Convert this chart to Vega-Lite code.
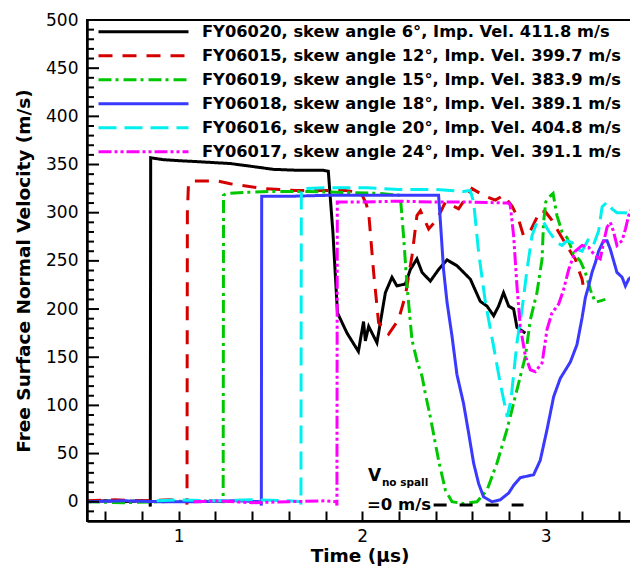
{
  "$schema": "https://vega.github.io/schema/vega-lite/v6.json",
  "autosize": {"type": "none"},
  "padding": {"left": 87, "top": 20, "right": 0, "bottom": 49},
  "width": 545,
  "height": 501,
  "background": "white",
  "config": {
    "view": {"stroke": "black", "strokeWidth": 2},
    "font": "DejaVu Sans",
    "axis": {
      "domainColor": "black", "domainWidth": 2.5,
      "tickColor": "black", "tickWidth": 2,
      "labelColor": "black", "labelFont": "DejaVu Sans", "labelFontSize": 17,
      "titleColor": "black", "titleFont": "DejaVu Sans", "titleFontSize": 18.5, "titleFontWeight": "bold",
      "grid": false, "labelOverlap": false, "labelBound": false, "labelFlush": false
    }
  },
  "datasets": {
    "curves": [
      {"s":"FY06020, skew angle 6°, Imp. Vel. 411.8 m/s","t":0.5,"v":0},
      {"s":"FY06020, skew angle 6°, Imp. Vel. 411.8 m/s","t":0.6,"v":1},
      {"s":"FY06020, skew angle 6°, Imp. Vel. 411.8 m/s","t":0.7,"v":0},
      {"s":"FY06020, skew angle 6°, Imp. Vel. 411.8 m/s","t":0.8,"v":1},
      {"s":"FY06020, skew angle 6°, Imp. Vel. 411.8 m/s","t":0.843,"v":0},
      {"s":"FY06020, skew angle 6°, Imp. Vel. 411.8 m/s","t":0.845,"v":-5},
      {"s":"FY06020, skew angle 6°, Imp. Vel. 411.8 m/s","t":0.847,"v":357},
      {"s":"FY06020, skew angle 6°, Imp. Vel. 411.8 m/s","t":0.916,"v":355},
      {"s":"FY06020, skew angle 6°, Imp. Vel. 411.8 m/s","t":1.0,"v":354},
      {"s":"FY06020, skew angle 6°, Imp. Vel. 411.8 m/s","t":1.1,"v":353},
      {"s":"FY06020, skew angle 6°, Imp. Vel. 411.8 m/s","t":1.281,"v":351},
      {"s":"FY06020, skew angle 6°, Imp. Vel. 411.8 m/s","t":1.4,"v":348},
      {"s":"FY06020, skew angle 6°, Imp. Vel. 411.8 m/s","t":1.515,"v":345},
      {"s":"FY06020, skew angle 6°, Imp. Vel. 411.8 m/s","t":1.65,"v":344},
      {"s":"FY06020, skew angle 6°, Imp. Vel. 411.8 m/s","t":1.788,"v":344},
      {"s":"FY06020, skew angle 6°, Imp. Vel. 411.8 m/s","t":1.815,"v":343},
      {"s":"FY06020, skew angle 6°, Imp. Vel. 411.8 m/s","t":1.84,"v":280},
      {"s":"FY06020, skew angle 6°, Imp. Vel. 411.8 m/s","t":1.865,"v":196},
      {"s":"FY06020, skew angle 6°, Imp. Vel. 411.8 m/s","t":1.917,"v":175},
      {"s":"FY06020, skew angle 6°, Imp. Vel. 411.8 m/s","t":1.979,"v":156},
      {"s":"FY06020, skew angle 6°, Imp. Vel. 411.8 m/s","t":2.007,"v":187},
      {"s":"FY06020, skew angle 6°, Imp. Vel. 411.8 m/s","t":2.017,"v":167},
      {"s":"FY06020, skew angle 6°, Imp. Vel. 411.8 m/s","t":2.035,"v":182},
      {"s":"FY06020, skew angle 6°, Imp. Vel. 411.8 m/s","t":2.08,"v":165},
      {"s":"FY06020, skew angle 6°, Imp. Vel. 411.8 m/s","t":2.126,"v":217},
      {"s":"FY06020, skew angle 6°, Imp. Vel. 411.8 m/s","t":2.162,"v":233},
      {"s":"FY06020, skew angle 6°, Imp. Vel. 411.8 m/s","t":2.189,"v":224},
      {"s":"FY06020, skew angle 6°, Imp. Vel. 411.8 m/s","t":2.235,"v":226},
      {"s":"FY06020, skew angle 6°, Imp. Vel. 411.8 m/s","t":2.262,"v":241},
      {"s":"FY06020, skew angle 6°, Imp. Vel. 411.8 m/s","t":2.298,"v":252},
      {"s":"FY06020, skew angle 6°, Imp. Vel. 411.8 m/s","t":2.326,"v":238},
      {"s":"FY06020, skew angle 6°, Imp. Vel. 411.8 m/s","t":2.371,"v":229},
      {"s":"FY06020, skew angle 6°, Imp. Vel. 411.8 m/s","t":2.416,"v":241},
      {"s":"FY06020, skew angle 6°, Imp. Vel. 411.8 m/s","t":2.462,"v":251},
      {"s":"FY06020, skew angle 6°, Imp. Vel. 411.8 m/s","t":2.516,"v":245},
      {"s":"FY06020, skew angle 6°, Imp. Vel. 411.8 m/s","t":2.589,"v":231},
      {"s":"FY06020, skew angle 6°, Imp. Vel. 411.8 m/s","t":2.643,"v":208},
      {"s":"FY06020, skew angle 6°, Imp. Vel. 411.8 m/s","t":2.68,"v":203},
      {"s":"FY06020, skew angle 6°, Imp. Vel. 411.8 m/s","t":2.716,"v":193},
      {"s":"FY06020, skew angle 6°, Imp. Vel. 411.8 m/s","t":2.743,"v":203},
      {"s":"FY06020, skew angle 6°, Imp. Vel. 411.8 m/s","t":2.77,"v":217},
      {"s":"FY06020, skew angle 6°, Imp. Vel. 411.8 m/s","t":2.798,"v":203},
      {"s":"FY06020, skew angle 6°, Imp. Vel. 411.8 m/s","t":2.825,"v":200},
      {"s":"FY06020, skew angle 6°, Imp. Vel. 411.8 m/s","t":2.843,"v":181},
      {"s":"FY06020, skew angle 6°, Imp. Vel. 411.8 m/s","t":2.889,"v":175},

      {"s":"FY06015, skew angle 12°, Imp. Vel. 399.7 m/s","t":0.5,"v":1},
      {"s":"FY06015, skew angle 12°, Imp. Vel. 399.7 m/s","t":0.65,"v":2},
      {"s":"FY06015, skew angle 12°, Imp. Vel. 399.7 m/s","t":0.8,"v":1},
      {"s":"FY06015, skew angle 12°, Imp. Vel. 399.7 m/s","t":0.95,"v":2},
      {"s":"FY06015, skew angle 12°, Imp. Vel. 399.7 m/s","t":1.043,"v":1},
      {"s":"FY06015, skew angle 12°, Imp. Vel. 399.7 m/s","t":1.045,"v":-3},
      {"s":"FY06015, skew angle 12°, Imp. Vel. 399.7 m/s","t":1.047,"v":300},
      {"s":"FY06015, skew angle 12°, Imp. Vel. 399.7 m/s","t":1.053,"v":330},
      {"s":"FY06015, skew angle 12°, Imp. Vel. 399.7 m/s","t":1.07,"v":333},
      {"s":"FY06015, skew angle 12°, Imp. Vel. 399.7 m/s","t":1.208,"v":333},
      {"s":"FY06015, skew angle 12°, Imp. Vel. 399.7 m/s","t":1.281,"v":330},
      {"s":"FY06015, skew angle 12°, Imp. Vel. 399.7 m/s","t":1.462,"v":325},
      {"s":"FY06015, skew angle 12°, Imp. Vel. 399.7 m/s","t":1.644,"v":323},
      {"s":"FY06015, skew angle 12°, Imp. Vel. 399.7 m/s","t":1.908,"v":323},
      {"s":"FY06015, skew angle 12°, Imp. Vel. 399.7 m/s","t":1.95,"v":322},
      {"s":"FY06015, skew angle 12°, Imp. Vel. 399.7 m/s","t":2.0,"v":318},
      {"s":"FY06015, skew angle 12°, Imp. Vel. 399.7 m/s","t":2.02,"v":310},
      {"s":"FY06015, skew angle 12°, Imp. Vel. 399.7 m/s","t":2.035,"v":300},
      {"s":"FY06015, skew angle 12°, Imp. Vel. 399.7 m/s","t":2.062,"v":238},
      {"s":"FY06015, skew angle 12°, Imp. Vel. 399.7 m/s","t":2.089,"v":186},
      {"s":"FY06015, skew angle 12°, Imp. Vel. 399.7 m/s","t":2.144,"v":174},
      {"s":"FY06015, skew angle 12°, Imp. Vel. 399.7 m/s","t":2.198,"v":189},
      {"s":"FY06015, skew angle 12°, Imp. Vel. 399.7 m/s","t":2.235,"v":214},
      {"s":"FY06015, skew angle 12°, Imp. Vel. 399.7 m/s","t":2.271,"v":255},
      {"s":"FY06015, skew angle 12°, Imp. Vel. 399.7 m/s","t":2.298,"v":297},
      {"s":"FY06015, skew angle 12°, Imp. Vel. 399.7 m/s","t":2.317,"v":302},
      {"s":"FY06015, skew angle 12°, Imp. Vel. 399.7 m/s","t":2.362,"v":283},
      {"s":"FY06015, skew angle 12°, Imp. Vel. 399.7 m/s","t":2.407,"v":293},
      {"s":"FY06015, skew angle 12°, Imp. Vel. 399.7 m/s","t":2.453,"v":311},
      {"s":"FY06015, skew angle 12°, Imp. Vel. 399.7 m/s","t":2.525,"v":304},
      {"s":"FY06015, skew angle 12°, Imp. Vel. 399.7 m/s","t":2.598,"v":325},
      {"s":"FY06015, skew angle 12°, Imp. Vel. 399.7 m/s","t":2.661,"v":318},
      {"s":"FY06015, skew angle 12°, Imp. Vel. 399.7 m/s","t":2.725,"v":313},
      {"s":"FY06015, skew angle 12°, Imp. Vel. 399.7 m/s","t":2.77,"v":318},
      {"s":"FY06015, skew angle 12°, Imp. Vel. 399.7 m/s","t":2.816,"v":307},
      {"s":"FY06015, skew angle 12°, Imp. Vel. 399.7 m/s","t":2.852,"v":293},
      {"s":"FY06015, skew angle 12°, Imp. Vel. 399.7 m/s","t":2.879,"v":276},
      {"s":"FY06015, skew angle 12°, Imp. Vel. 399.7 m/s","t":2.916,"v":281},
      {"s":"FY06015, skew angle 12°, Imp. Vel. 399.7 m/s","t":2.97,"v":302},
      {"s":"FY06015, skew angle 12°, Imp. Vel. 399.7 m/s","t":2.998,"v":301},
      {"s":"FY06015, skew angle 12°, Imp. Vel. 399.7 m/s","t":3.034,"v":292},
      {"s":"FY06015, skew angle 12°, Imp. Vel. 399.7 m/s","t":3.061,"v":283},
      {"s":"FY06015, skew angle 12°, Imp. Vel. 399.7 m/s","t":3.107,"v":268},
      {"s":"FY06015, skew angle 12°, Imp. Vel. 399.7 m/s","t":3.143,"v":257},
      {"s":"FY06015, skew angle 12°, Imp. Vel. 399.7 m/s","t":3.161,"v":252},
      {"s":"FY06015, skew angle 12°, Imp. Vel. 399.7 m/s","t":3.179,"v":241},
      {"s":"FY06015, skew angle 12°, Imp. Vel. 399.7 m/s","t":3.198,"v":231},
      {"s":"FY06015, skew angle 12°, Imp. Vel. 399.7 m/s","t":3.21,"v":217},

      {"s":"FY06019, skew angle 15°, Imp. Vel. 383.9 m/s","t":0.5,"v":0},
      {"s":"FY06019, skew angle 15°, Imp. Vel. 383.9 m/s","t":0.7,"v":-1},
      {"s":"FY06019, skew angle 15°, Imp. Vel. 383.9 m/s","t":0.9,"v":0},
      {"s":"FY06019, skew angle 15°, Imp. Vel. 383.9 m/s","t":1.1,"v":1},
      {"s":"FY06019, skew angle 15°, Imp. Vel. 383.9 m/s","t":1.242,"v":0},
      {"s":"FY06019, skew angle 15°, Imp. Vel. 383.9 m/s","t":1.244,"v":318},
      {"s":"FY06019, skew angle 15°, Imp. Vel. 383.9 m/s","t":1.26,"v":320},
      {"s":"FY06019, skew angle 15°, Imp. Vel. 383.9 m/s","t":1.35,"v":321},
      {"s":"FY06019, skew angle 15°, Imp. Vel. 383.9 m/s","t":1.5,"v":322},
      {"s":"FY06019, skew angle 15°, Imp. Vel. 383.9 m/s","t":1.7,"v":322},
      {"s":"FY06019, skew angle 15°, Imp. Vel. 383.9 m/s","t":1.9,"v":321},
      {"s":"FY06019, skew angle 15°, Imp. Vel. 383.9 m/s","t":2.1,"v":320},
      {"s":"FY06019, skew angle 15°, Imp. Vel. 383.9 m/s","t":2.207,"v":318},
      {"s":"FY06019, skew angle 15°, Imp. Vel. 383.9 m/s","t":2.225,"v":276},
      {"s":"FY06019, skew angle 15°, Imp. Vel. 383.9 m/s","t":2.244,"v":224},
      {"s":"FY06019, skew angle 15°, Imp. Vel. 383.9 m/s","t":2.271,"v":168},
      {"s":"FY06019, skew angle 15°, Imp. Vel. 383.9 m/s","t":2.3,"v":145},
      {"s":"FY06019, skew angle 15°, Imp. Vel. 383.9 m/s","t":2.326,"v":130},
      {"s":"FY06019, skew angle 15°, Imp. Vel. 383.9 m/s","t":2.344,"v":112},
      {"s":"FY06019, skew angle 15°, Imp. Vel. 383.9 m/s","t":2.371,"v":88},
      {"s":"FY06019, skew angle 15°, Imp. Vel. 383.9 m/s","t":2.416,"v":43},
      {"s":"FY06019, skew angle 15°, Imp. Vel. 383.9 m/s","t":2.453,"v":12},
      {"s":"FY06019, skew angle 15°, Imp. Vel. 383.9 m/s","t":2.489,"v":0},
      {"s":"FY06019, skew angle 15°, Imp. Vel. 383.9 m/s","t":2.552,"v":-2},
      {"s":"FY06019, skew angle 15°, Imp. Vel. 383.9 m/s","t":2.625,"v":0},
      {"s":"FY06019, skew angle 15°, Imp. Vel. 383.9 m/s","t":2.68,"v":12},
      {"s":"FY06019, skew angle 15°, Imp. Vel. 383.9 m/s","t":2.734,"v":40},
      {"s":"FY06019, skew angle 15°, Imp. Vel. 383.9 m/s","t":2.789,"v":75},
      {"s":"FY06019, skew angle 15°, Imp. Vel. 383.9 m/s","t":2.843,"v":116},
      {"s":"FY06019, skew angle 15°, Imp. Vel. 383.9 m/s","t":2.889,"v":151},
      {"s":"FY06019, skew angle 15°, Imp. Vel. 383.9 m/s","t":2.916,"v":189},
      {"s":"FY06019, skew angle 15°, Imp. Vel. 383.9 m/s","t":2.952,"v":217},
      {"s":"FY06019, skew angle 15°, Imp. Vel. 383.9 m/s","t":2.98,"v":252},
      {"s":"FY06019, skew angle 15°, Imp. Vel. 383.9 m/s","t":2.988,"v":290},
      {"s":"FY06019, skew angle 15°, Imp. Vel. 383.9 m/s","t":3.0,"v":311},
      {"s":"FY06019, skew angle 15°, Imp. Vel. 383.9 m/s","t":3.016,"v":316},
      {"s":"FY06019, skew angle 15°, Imp. Vel. 383.9 m/s","t":3.04,"v":320},
      {"s":"FY06019, skew angle 15°, Imp. Vel. 383.9 m/s","t":3.061,"v":297},
      {"s":"FY06019, skew angle 15°, Imp. Vel. 383.9 m/s","t":3.089,"v":280},
      {"s":"FY06019, skew angle 15°, Imp. Vel. 383.9 m/s","t":3.116,"v":274},
      {"s":"FY06019, skew angle 15°, Imp. Vel. 383.9 m/s","t":3.134,"v":266},
      {"s":"FY06019, skew angle 15°, Imp. Vel. 383.9 m/s","t":3.152,"v":257},
      {"s":"FY06019, skew angle 15°, Imp. Vel. 383.9 m/s","t":3.188,"v":250},
      {"s":"FY06019, skew angle 15°, Imp. Vel. 383.9 m/s","t":3.216,"v":238},
      {"s":"FY06019, skew angle 15°, Imp. Vel. 383.9 m/s","t":3.243,"v":220},
      {"s":"FY06019, skew angle 15°, Imp. Vel. 383.9 m/s","t":3.27,"v":207},
      {"s":"FY06019, skew angle 15°, Imp. Vel. 383.9 m/s","t":3.325,"v":210},

      {"s":"FY06018, skew angle 18°, Imp. Vel. 389.1 m/s","t":0.5,"v":0},
      {"s":"FY06018, skew angle 18°, Imp. Vel. 389.1 m/s","t":0.7,"v":1},
      {"s":"FY06018, skew angle 18°, Imp. Vel. 389.1 m/s","t":0.9,"v":0},
      {"s":"FY06018, skew angle 18°, Imp. Vel. 389.1 m/s","t":1.1,"v":0},
      {"s":"FY06018, skew angle 18°, Imp. Vel. 389.1 m/s","t":1.3,"v":1},
      {"s":"FY06018, skew angle 18°, Imp. Vel. 389.1 m/s","t":1.448,"v":0},
      {"s":"FY06018, skew angle 18°, Imp. Vel. 389.1 m/s","t":1.45,"v":-4},
      {"s":"FY06018, skew angle 18°, Imp. Vel. 389.1 m/s","t":1.452,"v":317},
      {"s":"FY06018, skew angle 18°, Imp. Vel. 389.1 m/s","t":1.6,"v":317},
      {"s":"FY06018, skew angle 18°, Imp. Vel. 389.1 m/s","t":1.8,"v":318},
      {"s":"FY06018, skew angle 18°, Imp. Vel. 389.1 m/s","t":2.0,"v":318},
      {"s":"FY06018, skew angle 18°, Imp. Vel. 389.1 m/s","t":2.2,"v":318},
      {"s":"FY06018, skew angle 18°, Imp. Vel. 389.1 m/s","t":2.416,"v":318},
      {"s":"FY06018, skew angle 18°, Imp. Vel. 389.1 m/s","t":2.425,"v":293},
      {"s":"FY06018, skew angle 18°, Imp. Vel. 389.1 m/s","t":2.443,"v":241},
      {"s":"FY06018, skew angle 18°, Imp. Vel. 389.1 m/s","t":2.462,"v":207},
      {"s":"FY06018, skew angle 18°, Imp. Vel. 389.1 m/s","t":2.489,"v":172},
      {"s":"FY06018, skew angle 18°, Imp. Vel. 389.1 m/s","t":2.516,"v":132},
      {"s":"FY06018, skew angle 18°, Imp. Vel. 389.1 m/s","t":2.552,"v":102},
      {"s":"FY06018, skew angle 18°, Imp. Vel. 389.1 m/s","t":2.58,"v":71},
      {"s":"FY06018, skew angle 18°, Imp. Vel. 389.1 m/s","t":2.607,"v":40},
      {"s":"FY06018, skew angle 18°, Imp. Vel. 389.1 m/s","t":2.634,"v":19},
      {"s":"FY06018, skew angle 18°, Imp. Vel. 389.1 m/s","t":2.661,"v":5},
      {"s":"FY06018, skew angle 18°, Imp. Vel. 389.1 m/s","t":2.707,"v":0},
      {"s":"FY06018, skew angle 18°, Imp. Vel. 389.1 m/s","t":2.752,"v":2},
      {"s":"FY06018, skew angle 18°, Imp. Vel. 389.1 m/s","t":2.798,"v":9},
      {"s":"FY06018, skew angle 18°, Imp. Vel. 389.1 m/s","t":2.825,"v":17},
      {"s":"FY06018, skew angle 18°, Imp. Vel. 389.1 m/s","t":2.861,"v":25},
      {"s":"FY06018, skew angle 18°, Imp. Vel. 389.1 m/s","t":2.934,"v":28},
      {"s":"FY06018, skew angle 18°, Imp. Vel. 389.1 m/s","t":2.97,"v":43},
      {"s":"FY06018, skew angle 18°, Imp. Vel. 389.1 m/s","t":3.007,"v":75},
      {"s":"FY06018, skew angle 18°, Imp. Vel. 389.1 m/s","t":3.043,"v":109},
      {"s":"FY06018, skew angle 18°, Imp. Vel. 389.1 m/s","t":3.079,"v":128},
      {"s":"FY06018, skew angle 18°, Imp. Vel. 389.1 m/s","t":3.134,"v":145},
      {"s":"FY06018, skew angle 18°, Imp. Vel. 389.1 m/s","t":3.17,"v":163},
      {"s":"FY06018, skew angle 18°, Imp. Vel. 389.1 m/s","t":3.198,"v":191},
      {"s":"FY06018, skew angle 18°, Imp. Vel. 389.1 m/s","t":3.216,"v":212},
      {"s":"FY06018, skew angle 18°, Imp. Vel. 389.1 m/s","t":3.234,"v":224},
      {"s":"FY06018, skew angle 18°, Imp. Vel. 389.1 m/s","t":3.252,"v":238},
      {"s":"FY06018, skew angle 18°, Imp. Vel. 389.1 m/s","t":3.27,"v":248},
      {"s":"FY06018, skew angle 18°, Imp. Vel. 389.1 m/s","t":3.288,"v":260},
      {"s":"FY06018, skew angle 18°, Imp. Vel. 389.1 m/s","t":3.315,"v":271},
      {"s":"FY06018, skew angle 18°, Imp. Vel. 389.1 m/s","t":3.334,"v":271},
      {"s":"FY06018, skew angle 18°, Imp. Vel. 389.1 m/s","t":3.352,"v":262},
      {"s":"FY06018, skew angle 18°, Imp. Vel. 389.1 m/s","t":3.37,"v":250},
      {"s":"FY06018, skew angle 18°, Imp. Vel. 389.1 m/s","t":3.388,"v":238},
      {"s":"FY06018, skew angle 18°, Imp. Vel. 389.1 m/s","t":3.416,"v":233},
      {"s":"FY06018, skew angle 18°, Imp. Vel. 389.1 m/s","t":3.434,"v":224},
      {"s":"FY06018, skew angle 18°, Imp. Vel. 389.1 m/s","t":3.452,"v":231},
      {"s":"FY06018, skew angle 18°, Imp. Vel. 389.1 m/s","t":3.47,"v":234},

      {"s":"FY06016, skew angle 20°, Imp. Vel. 404.8 m/s","t":0.88,"v":1},
      {"s":"FY06016, skew angle 20°, Imp. Vel. 404.8 m/s","t":1.0,"v":2},
      {"s":"FY06016, skew angle 20°, Imp. Vel. 404.8 m/s","t":1.2,"v":1},
      {"s":"FY06016, skew angle 20°, Imp. Vel. 404.8 m/s","t":1.4,"v":2},
      {"s":"FY06016, skew angle 20°, Imp. Vel. 404.8 m/s","t":1.6,"v":1},
      {"s":"FY06016, skew angle 20°, Imp. Vel. 404.8 m/s","t":1.664,"v":0},
      {"s":"FY06016, skew angle 20°, Imp. Vel. 404.8 m/s","t":1.666,"v":-3},
      {"s":"FY06016, skew angle 20°, Imp. Vel. 404.8 m/s","t":1.668,"v":325},
      {"s":"FY06016, skew angle 20°, Imp. Vel. 404.8 m/s","t":1.8,"v":326},
      {"s":"FY06016, skew angle 20°, Imp. Vel. 404.8 m/s","t":2.026,"v":326},
      {"s":"FY06016, skew angle 20°, Imp. Vel. 404.8 m/s","t":2.2,"v":324},
      {"s":"FY06016, skew angle 20°, Imp. Vel. 404.8 m/s","t":2.4,"v":324},
      {"s":"FY06016, skew angle 20°, Imp. Vel. 404.8 m/s","t":2.552,"v":322},
      {"s":"FY06016, skew angle 20°, Imp. Vel. 404.8 m/s","t":2.589,"v":323},
      {"s":"FY06016, skew angle 20°, Imp. Vel. 404.8 m/s","t":2.607,"v":311},
      {"s":"FY06016, skew angle 20°, Imp. Vel. 404.8 m/s","t":2.634,"v":259},
      {"s":"FY06016, skew angle 20°, Imp. Vel. 404.8 m/s","t":2.671,"v":207},
      {"s":"FY06016, skew angle 20°, Imp. Vel. 404.8 m/s","t":2.716,"v":161},
      {"s":"FY06016, skew angle 20°, Imp. Vel. 404.8 m/s","t":2.752,"v":123},
      {"s":"FY06016, skew angle 20°, Imp. Vel. 404.8 m/s","t":2.79,"v":88},
      {"s":"FY06016, skew angle 20°, Imp. Vel. 404.8 m/s","t":2.81,"v":105},
      {"s":"FY06016, skew angle 20°, Imp. Vel. 404.8 m/s","t":2.843,"v":165},
      {"s":"FY06016, skew angle 20°, Imp. Vel. 404.8 m/s","t":2.871,"v":200},
      {"s":"FY06016, skew angle 20°, Imp. Vel. 404.8 m/s","t":2.898,"v":241},
      {"s":"FY06016, skew angle 20°, Imp. Vel. 404.8 m/s","t":2.925,"v":276},
      {"s":"FY06016, skew angle 20°, Imp. Vel. 404.8 m/s","t":2.952,"v":290},
      {"s":"FY06016, skew angle 20°, Imp. Vel. 404.8 m/s","t":2.988,"v":290},
      {"s":"FY06016, skew angle 20°, Imp. Vel. 404.8 m/s","t":3.016,"v":281},
      {"s":"FY06016, skew angle 20°, Imp. Vel. 404.8 m/s","t":3.061,"v":269},
      {"s":"FY06016, skew angle 20°, Imp. Vel. 404.8 m/s","t":3.089,"v":266},
      {"s":"FY06016, skew angle 20°, Imp. Vel. 404.8 m/s","t":3.116,"v":271},
      {"s":"FY06016, skew angle 20°, Imp. Vel. 404.8 m/s","t":3.143,"v":269},
      {"s":"FY06016, skew angle 20°, Imp. Vel. 404.8 m/s","t":3.17,"v":262},
      {"s":"FY06016, skew angle 20°, Imp. Vel. 404.8 m/s","t":3.198,"v":260},
      {"s":"FY06016, skew angle 20°, Imp. Vel. 404.8 m/s","t":3.234,"v":273},
      {"s":"FY06016, skew angle 20°, Imp. Vel. 404.8 m/s","t":3.261,"v":267},
      {"s":"FY06016, skew angle 20°, Imp. Vel. 404.8 m/s","t":3.288,"v":281},
      {"s":"FY06016, skew angle 20°, Imp. Vel. 404.8 m/s","t":3.307,"v":306},
      {"s":"FY06016, skew angle 20°, Imp. Vel. 404.8 m/s","t":3.334,"v":311},
      {"s":"FY06016, skew angle 20°, Imp. Vel. 404.8 m/s","t":3.361,"v":304},
      {"s":"FY06016, skew angle 20°, Imp. Vel. 404.8 m/s","t":3.388,"v":300},
      {"s":"FY06016, skew angle 20°, Imp. Vel. 404.8 m/s","t":3.424,"v":300},
      {"s":"FY06016, skew angle 20°, Imp. Vel. 404.8 m/s","t":3.47,"v":299},

      {"s":"FY06017, skew angle 24°, Imp. Vel. 391.1 m/s","t":1.08,"v":0},
      {"s":"FY06017, skew angle 24°, Imp. Vel. 391.1 m/s","t":1.2,"v":1},
      {"s":"FY06017, skew angle 24°, Imp. Vel. 391.1 m/s","t":1.4,"v":-1},
      {"s":"FY06017, skew angle 24°, Imp. Vel. 391.1 m/s","t":1.6,"v":0},
      {"s":"FY06017, skew angle 24°, Imp. Vel. 391.1 m/s","t":1.8,"v":1},
      {"s":"FY06017, skew angle 24°, Imp. Vel. 391.1 m/s","t":1.86,"v":0},
      {"s":"FY06017, skew angle 24°, Imp. Vel. 391.1 m/s","t":1.862,"v":-4},
      {"s":"FY06017, skew angle 24°, Imp. Vel. 391.1 m/s","t":1.864,"v":311},
      {"s":"FY06017, skew angle 24°, Imp. Vel. 391.1 m/s","t":2.0,"v":311},
      {"s":"FY06017, skew angle 24°, Imp. Vel. 391.1 m/s","t":2.2,"v":312},
      {"s":"FY06017, skew angle 24°, Imp. Vel. 391.1 m/s","t":2.4,"v":311},
      {"s":"FY06017, skew angle 24°, Imp. Vel. 391.1 m/s","t":2.6,"v":311},
      {"s":"FY06017, skew angle 24°, Imp. Vel. 391.1 m/s","t":2.8,"v":310},
      {"s":"FY06017, skew angle 24°, Imp. Vel. 391.1 m/s","t":2.807,"v":307},
      {"s":"FY06017, skew angle 24°, Imp. Vel. 391.1 m/s","t":2.825,"v":276},
      {"s":"FY06017, skew angle 24°, Imp. Vel. 391.1 m/s","t":2.843,"v":224},
      {"s":"FY06017, skew angle 24°, Imp. Vel. 391.1 m/s","t":2.861,"v":182},
      {"s":"FY06017, skew angle 24°, Imp. Vel. 391.1 m/s","t":2.889,"v":151},
      {"s":"FY06017, skew angle 24°, Imp. Vel. 391.1 m/s","t":2.916,"v":137},
      {"s":"FY06017, skew angle 24°, Imp. Vel. 391.1 m/s","t":2.943,"v":135},
      {"s":"FY06017, skew angle 24°, Imp. Vel. 391.1 m/s","t":2.98,"v":144},
      {"s":"FY06017, skew angle 24°, Imp. Vel. 391.1 m/s","t":3.007,"v":179},
      {"s":"FY06017, skew angle 24°, Imp. Vel. 391.1 m/s","t":3.034,"v":196},
      {"s":"FY06017, skew angle 24°, Imp. Vel. 391.1 m/s","t":3.07,"v":205},
      {"s":"FY06017, skew angle 24°, Imp. Vel. 391.1 m/s","t":3.097,"v":220},
      {"s":"FY06017, skew angle 24°, Imp. Vel. 391.1 m/s","t":3.125,"v":241},
      {"s":"FY06017, skew angle 24°, Imp. Vel. 391.1 m/s","t":3.161,"v":260},
      {"s":"FY06017, skew angle 24°, Imp. Vel. 391.1 m/s","t":3.198,"v":266},
      {"s":"FY06017, skew angle 24°, Imp. Vel. 391.1 m/s","t":3.234,"v":264},
      {"s":"FY06017, skew angle 24°, Imp. Vel. 391.1 m/s","t":3.27,"v":255},
      {"s":"FY06017, skew angle 24°, Imp. Vel. 391.1 m/s","t":3.297,"v":252},
      {"s":"FY06017, skew angle 24°, Imp. Vel. 391.1 m/s","t":3.315,"v":269},
      {"s":"FY06017, skew angle 24°, Imp. Vel. 391.1 m/s","t":3.334,"v":285},
      {"s":"FY06017, skew angle 24°, Imp. Vel. 391.1 m/s","t":3.352,"v":290},
      {"s":"FY06017, skew angle 24°, Imp. Vel. 391.1 m/s","t":3.37,"v":280},
      {"s":"FY06017, skew angle 24°, Imp. Vel. 391.1 m/s","t":3.388,"v":266},
      {"s":"FY06017, skew angle 24°, Imp. Vel. 391.1 m/s","t":3.416,"v":271},
      {"s":"FY06017, skew angle 24°, Imp. Vel. 391.1 m/s","t":3.434,"v":283},
      {"s":"FY06017, skew angle 24°, Imp. Vel. 391.1 m/s","t":3.452,"v":297},
      {"s":"FY06017, skew angle 24°, Imp. Vel. 391.1 m/s","t":3.47,"v":305}
    ],
    "refline": [
      {"t": 2.389, "v": -3.4},
      {"t": 2.879, "v": -3.4}
    ],
    "notes": [
      {"t": 2.032, "v": 27, "txt": "V", "sz": 17},
      {"t": 2.107, "v": 19.5, "txt": "no spall", "sz": 10.5},
      {"t": 2.026, "v": -3.5, "txt": "=0 m/s", "sz": 16.5}
    ],
    "yminor": [
      {"v":-10},{"v":10},{"v":20},{"v":30},{"v":40},{"v":60},{"v":70},{"v":80},{"v":90},
      {"v":110},{"v":120},{"v":130},{"v":140},{"v":160},{"v":170},{"v":180},{"v":190},
      {"v":210},{"v":220},{"v":230},{"v":240},{"v":260},{"v":270},{"v":280},{"v":290},
      {"v":310},{"v":320},{"v":330},{"v":340},{"v":360},{"v":370},{"v":380},{"v":390},
      {"v":410},{"v":420},{"v":430},{"v":440},{"v":460},{"v":470},{"v":480},{"v":490}
    ],
    "ymajor": [
      {"v":0},{"v":50},{"v":100},{"v":150},{"v":200},{"v":250},{"v":300},{"v":350},{"v":400},{"v":450}
    ]
  },
  "layer": [
    {
      "data": {"name": "curves"},
      "mark": {"type": "line", "strokeWidth": 3, "clip": true, "interpolate": "linear"},
      "encoding": {
        "x": {
          "field": "t", "type": "quantitative",
          "scale": {"domain": [0.5, 3.47], "nice": false, "zero": false},
          "axis": {
            "title": "Time (μs)",
            "values": [0.6,0.8,1,1.2,1.4,1.6,1.8,2,2.2,2.4,2.6,2.8,3,3.2,3.4],
            "tickCount": 500,
            "labelExpr": "abs(datum.value - round(datum.value)) < 0.001 ? toString(round(datum.value)) : ''",
            "labelOverlap": false,
            "labelFlush": false,
            "ticks": true,
            "tickSize": -10,
            "tickOpacity": 1,
            "zindex": 1,
            "labelPadding": 17,
            "titlePadding": 2,
            "encode": {
              "ticks": {"update": {"y2": {"signal": "abs(datum.value - round(datum.value)) < 0.001 ? -12 : -7"}}}
            }
          }
        },
        "y": {
          "field": "v", "type": "quantitative",
          "scale": {"domain": [-20, 500], "nice": false, "zero": false},
          "axis": {
            "title": "Free Surface Normal Velocity (m/s)",
            "values": [0,50,100,150,200,250,300,350,400,450,500],
            "tickCount": 500,
            "labelOverlap": false,
            "labelFlush": false,
            "ticks": false,
            "zindex": 1,
            "labelPadding": 9,
            "titlePadding": 12
          }
        },
        "color": {
          "field": "s", "type": "nominal",
          "scale": {
            "domain": [
              "FY06020, skew angle 6°, Imp. Vel. 411.8 m/s",
              "FY06015, skew angle 12°, Imp. Vel. 399.7 m/s",
              "FY06019, skew angle 15°, Imp. Vel. 383.9 m/s",
              "FY06018, skew angle 18°, Imp. Vel. 389.1 m/s",
              "FY06016, skew angle 20°, Imp. Vel. 404.8 m/s",
              "FY06017, skew angle 24°, Imp. Vel. 391.1 m/s"
            ],
            "range": ["#000000", "#d40000", "#00c800", "#3a3aff", "#00f0f0", "#ff00ff"]
          },
          "legend": {
            "orient": "none", "legendX": 10, "legendY": 0, "title": null,
            "symbolType": "stroke", "symbolSize": 8100, "symbolStrokeWidth": 3,
            "labelFont": "DejaVu Sans", "labelFontSize": 16.3, "labelFontWeight": "bold",
            "labelColor": "black", "labelLimit": 600, "labelOffset": 12,
            "clipHeight": 23.3, "rowPadding": 0, "padding": 0
          }
        },
        "strokeDash": {
          "field": "s", "type": "nominal",
          "scale": {
            "domain": [
              "FY06020, skew angle 6°, Imp. Vel. 411.8 m/s",
              "FY06015, skew angle 12°, Imp. Vel. 399.7 m/s",
              "FY06019, skew angle 15°, Imp. Vel. 383.9 m/s",
              "FY06018, skew angle 18°, Imp. Vel. 389.1 m/s",
              "FY06016, skew angle 20°, Imp. Vel. 404.8 m/s",
              "FY06017, skew angle 24°, Imp. Vel. 391.1 m/s"
            ],
            "range": [[1, 0], [14, 10], [13, 4, 3, 5], [1, 0], [18, 8], [13, 3, 3, 3, 3, 3]]
          },
          "legend": {
            "orient": "none", "legendX": 10, "legendY": 0, "title": null,
            "symbolType": "stroke", "symbolSize": 8100, "symbolStrokeWidth": 3,
            "labelFont": "DejaVu Sans", "labelFontSize": 16.3, "labelFontWeight": "bold",
            "labelColor": "black", "labelLimit": 600, "labelOffset": 12,
            "clipHeight": 23.3, "rowPadding": 0, "padding": 0
          }
        }
      }
    },
    {
      "data": {"name": "yminor"},
      "mark": {"type": "rule", "color": "black", "strokeWidth": 2},
      "encoding": {
        "y": {"field": "v", "type": "quantitative"},
        "x": {"datum": 0.5, "type": "quantitative"},
        "x2": {"datum": 0.5381}
      }
    },
    {
      "data": {"name": "ymajor"},
      "mark": {"type": "rule", "color": "black", "strokeWidth": 2},
      "encoding": {
        "y": {"field": "v", "type": "quantitative"},
        "x": {"datum": 0.5, "type": "quantitative"},
        "x2": {"datum": 0.5654}
      }
    },
    {
      "data": {"name": "refline"},
      "mark": {"type": "line", "color": "black", "strokeWidth": 3, "strokeDash": [13, 13]},
      "encoding": {
        "x": {"field": "t", "type": "quantitative"},
        "y": {"field": "v", "type": "quantitative"}
      }
    },
    {
      "data": {"name": "notes"},
      "mark": {"type": "text", "align": "left", "baseline": "middle", "fontWeight": "bold", "font": "DejaVu Sans", "color": "black"},
      "encoding": {
        "x": {"field": "t", "type": "quantitative"},
        "y": {"field": "v", "type": "quantitative"},
        "text": {"field": "txt"},
        "size": {"field": "sz", "type": "quantitative", "scale": null}
      }
    }
  ]
}
